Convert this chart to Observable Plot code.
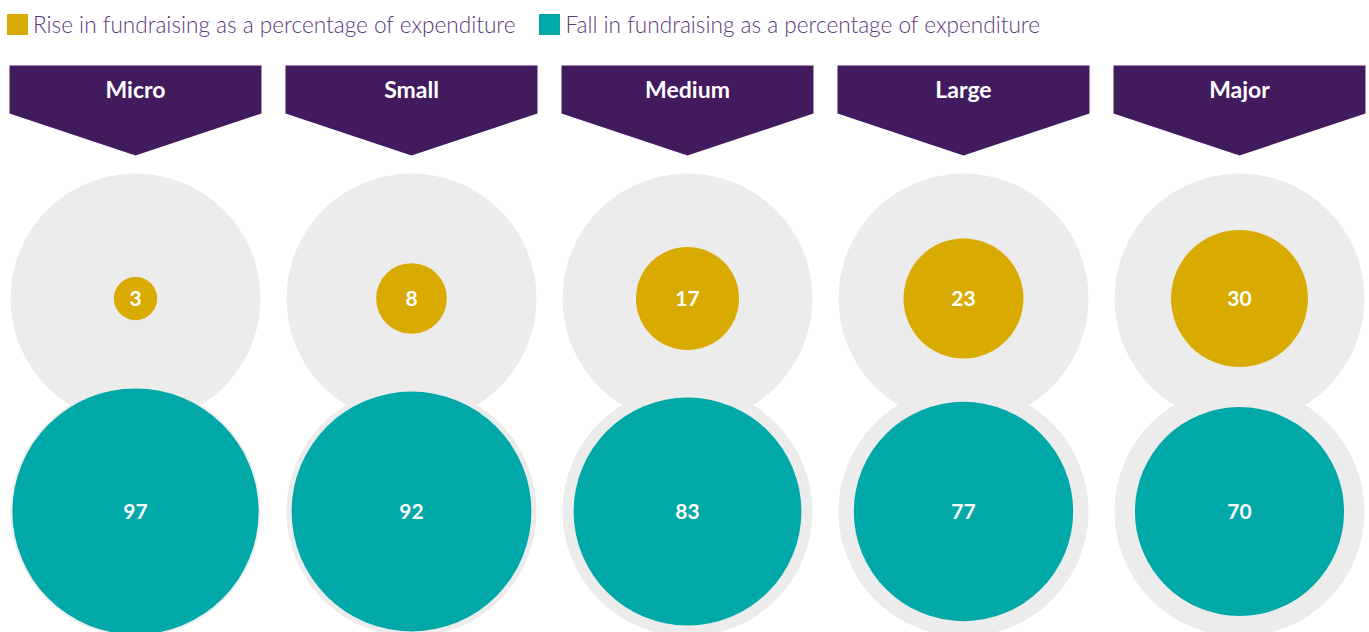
<!DOCTYPE html>
<html>
<head>
<meta charset="utf-8">
<script src="https://cdn.jsdelivr.net/npm/d3@7"></script>
<script src="https://cdn.jsdelivr.net/npm/@observablehq/plot@0.6"></script>
<style>
  html, body { margin: 0; padding: 0; background: #ffffff; overflow: hidden; }
  #legend { height: 50px; display: flex; align-items: center; padding-left: 7px; font-family: Lato, sans-serif; font-weight: 300; font-size: 22.6px; color: #5b3a7b; box-sizing: border-box; padding-bottom: 2px; }
  .item { display: flex; align-items: center; margin-right: 24px; }
  .sw { width: 21px; height: 21px; margin-right: 5px; }
</style>
</head>
<body>
<div id="legend"></div>
<div id="chart"></div>
<script>
const categories = ["Micro", "Small", "Medium", "Large", "Major"];
const riseValues = [3, 8, 17, 23, 30];
const fallValues = [97, 92, 83, 77, 70];
const seriesLabels = ["Rise in fundraising as a percentage of expenditure", "Fall in fundraising as a percentage of expenditure"];
const seriesColors = ["#d9aa00", "#00a8a8"];
const fullShare = 100;

const purple = "#421a5e";
const gray = "#ececec";

// legend
const legend = document.getElementById("legend");
seriesLabels.forEach((label, i) => {
  const item = document.createElement("div");
  item.className = "item";
  const sw = document.createElement("div");
  sw.className = "sw";
  sw.style.background = seriesColors[i];
  const t = document.createElement("span");
  t.textContent = label;
  item.appendChild(sw);
  item.appendChild(t);
  legend.appendChild(item);
});

const rows = categories.map((c, i) => ({category: c, rise: riseValues[i], fall: fallValues[i], full: fullShare}));

// banner glyph: a rectangle with a downward chevron point
const bannerSymbol = {
  draw(context) {
    const hw = 126;
    context.moveTo(-hw, -20);
    context.lineTo(hw, -20);
    context.lineTo(hw, 28);
    context.lineTo(0, 70);
    context.lineTo(-hw, 28);
    context.closePath();
  }
};

const chart = Plot.plot({
  width: 1369,
  height: 590,
  margin: 0,
  style: {fontFamily: "Lato, sans-serif", background: "transparent"},
  x: {type: "point", domain: categories, range: [133, 1240], padding: 0, axis: null},
  y: {type: "point", domain: ["banner", "rise", "fall"], range: [35, 461], padding: 0, axis: null},
  r: {type: "sqrt", domain: [0, 100], range: [0, 125]},
  marks: [
    Plot.dot(rows, {x: "category", y: () => "banner", symbol: bannerSymbol, r: 10, fill: purple, stroke: null}),
    Plot.text(rows, {x: "category", y: () => "banner", text: "category", dy: 5, fill: "white", fontSize: 23, fontWeight: 700}),
    Plot.dot(rows, {x: "category", y: () => "rise", r: "full", fill: gray}),
    Plot.dot(rows, {x: "category", y: () => "fall", r: "full", fill: gray}),
    Plot.dot(rows, {x: "category", y: () => "rise", r: "rise", fill: seriesColors[0]}),
    Plot.dot(rows, {x: "category", y: () => "fall", r: "fall", fill: seriesColors[1]}),
    Plot.text(rows, {x: "category", y: () => "rise", text: d => String(d.rise), dy: 1, fill: "white", fontSize: 21, fontWeight: 700}),
    Plot.text(rows, {x: "category", y: () => "fall", text: d => String(d.fall), dy: 1, fill: "white", fontSize: 21, fontWeight: 700})
  ]
});
document.getElementById("chart").appendChild(chart);
</script>
</body>
</html>
